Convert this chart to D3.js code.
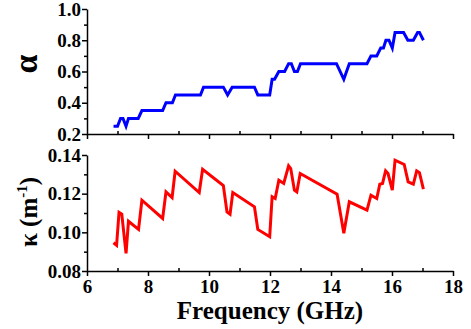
<!DOCTYPE html>
<html>
<head>
<script src="https://cdn.jsdelivr.net/npm/d3@7"></script>
</head>
<body style="margin:0">
<svg width="471" height="329" id="chart"></svg>
<script>
// absorption coefficient alpha vs frequency
const freqA = [6.87, 7.0, 7.1, 7.18, 7.28, 7.36, 7.68, 7.8, 8.48, 8.59, 8.8, 8.9, 9.72, 9.82, 10.47, 10.61, 10.76,
    11.49, 11.6, 11.99, 12.07, 12.15, 12.29, 12.48, 12.61, 12.7, 12.8, 12.9, 13.0, 14.18, 14.42, 14.6, 15.18, 15.31,
    15.5, 15.63, 15.72, 15.8, 15.9, 16.01, 16.1, 16.38, 16.52, 16.7, 16.84, 16.9, 17.03];
const alpha = [0.25, 0.25, 0.3, 0.3, 0.25, 0.3, 0.3, 0.35, 0.35, 0.4, 0.4, 0.45, 0.45, 0.5, 0.5, 0.45, 0.5,
    0.5, 0.45, 0.45, 0.55, 0.55, 0.6, 0.6, 0.65, 0.65, 0.6, 0.6, 0.65, 0.65, 0.55, 0.65, 0.65, 0.7,
    0.7, 0.75, 0.75, 0.8, 0.8, 0.75, 0.85, 0.85, 0.8, 0.8, 0.85, 0.85, 0.8];

// kappa vs frequency
const freqK = [6.87, 6.97, 7.05, 7.14, 7.28, 7.36, 7.69, 7.8, 8.48, 8.59, 8.79, 8.89, 9.68, 9.79, 10.47, 10.59, 10.69,
    10.78, 11.49, 11.6, 11.99, 12.07, 12.17, 12.29, 12.45, 12.61, 12.68, 12.8, 12.88, 12.99, 14.2, 14.42, 14.6,
    15.18, 15.31, 15.5, 15.6, 15.69, 15.79, 15.87, 16.01, 16.1, 16.4, 16.53, 16.7, 16.81, 16.9, 17.03];
const kappa = [0.0946, 0.0933, 0.1103, 0.1094, 0.0891, 0.1057, 0.1015, 0.1166, 0.1072, 0.1209, 0.118, 0.1316, 0.1206, 0.1326, 0.1242, 0.1106, 0.1094,
    0.1206, 0.1132, 0.1015, 0.0977, 0.1184, 0.1175, 0.127, 0.1253, 0.1344, 0.133, 0.1218, 0.1209, 0.1304, 0.1197, 0.0995, 0.1158,
    0.1115, 0.1192, 0.1175, 0.1249, 0.1253, 0.1318, 0.1304, 0.1218, 0.1373, 0.1351, 0.1261, 0.1249, 0.1318, 0.1309, 0.1223];

const xMajor = [6, 8, 10, 12, 14, 16, 18];
const xMinor = [7, 9, 11, 13, 15, 17];
const aMajor = [0.2, 0.4, 0.6, 0.8, 1.0];
const aMinor = [0.3, 0.5, 0.7, 0.9];
const kMajor = [0.08, 0.10, 0.12, 0.14];
const kMinor = [0.09, 0.11, 0.13];

const FONT = "Liberation Serif";
const svg = d3.select("#chart");

const x = d3.scaleLinear().domain([6, 18]).range([87, 453]);
const yA = d3.scaleLinear().domain([0.2, 1.0]).range([134, 9]);
const yK = d3.scaleLinear().domain([0.08, 0.14]).range([271, 155]);

function styleAxis(g) {
    g.select(".domain").attr("stroke", "#000").attr("stroke-width", 1.5);
    g.selectAll(".tick line").attr("stroke", "#000").attr("stroke-width", 1.5);
    g.selectAll("text")
        .attr("font-family", FONT)
        .attr("font-weight", "bold")
        .attr("font-size", 19)
        .attr("fill", "#000");
}

function drawPanel(yScale, yMajor, yMinor, fmt, showX, xs, ys, color) {
    const bottom = yScale.range()[0];
    // x axis
    const gx = svg.append("g").attr("transform", "translate(0," + bottom + ")")
        .call(d3.axisBottom(x).tickValues(xMajor).tickSizeInner(5).tickSizeOuter(0).tickPadding(4)
            .tickFormat(showX ? d3.format("d") : () => ""));
    styleAxis(gx);
    const gxm = svg.append("g").attr("transform", "translate(0," + bottom + ")")
        .call(d3.axisBottom(x).tickValues(xMinor).tickSize(-3).tickFormat(() => ""));
    styleAxis(gxm);
    gxm.select(".domain").remove();

    // y axis
    const gy = svg.append("g").attr("transform", "translate(87,0)")
        .call(d3.axisLeft(yScale).tickValues(yMajor).tickSizeInner(5).tickSizeOuter(0).tickPadding(1).tickFormat(fmt));
    styleAxis(gy);
    const gym = svg.append("g").attr("transform", "translate(87,0)")
        .call(d3.axisLeft(yScale).tickValues(yMinor).tickSize(3).tickFormat(() => ""));
    styleAxis(gym);
    gym.select(".domain").remove();

    const line = d3.line().x((d, i) => x(xs[i])).y(d => yScale(d));
    svg.append("path")
        .datum(ys)
        .attr("d", line)
        .attr("fill", "none")
        .attr("stroke", color)
        .attr("stroke-width", 3)
        .attr("stroke-linejoin", "miter");
}

drawPanel(yA, aMajor, aMinor, d3.format(".1f"), false, freqA, alpha, "#0000ff");
drawPanel(yK, kMajor, kMinor, d3.format(".2f"), true, freqK, kappa, "#ff0000");

// alpha label
svg.append("text")
    .attr("transform", "translate(37,64) rotate(-90)")
    .attr("text-anchor", "middle")
    .attr("font-family", FONT).attr("font-weight", "bold").attr("font-size", 34)
    .text("\u03b1");

// kappa label
const kl = svg.append("text")
    .attr("transform", "translate(37,212) rotate(-90)")
    .attr("text-anchor", "middle")
    .attr("font-family", FONT).attr("font-weight", "bold").attr("font-size", 25);
kl.append("tspan").text("\u03ba (m");
kl.append("tspan").attr("dy", -10).attr("font-size", 15).text("-1");
kl.append("tspan").attr("dy", 10).text(")");

// x axis title
svg.append("text")
    .attr("x", 270)
    .attr("y", 319)
    .attr("text-anchor", "middle")
    .attr("font-family", FONT).attr("font-weight", "bold").attr("font-size", 25)
    .text("Frequency (GHz)");
</script>
</body>
</html>
